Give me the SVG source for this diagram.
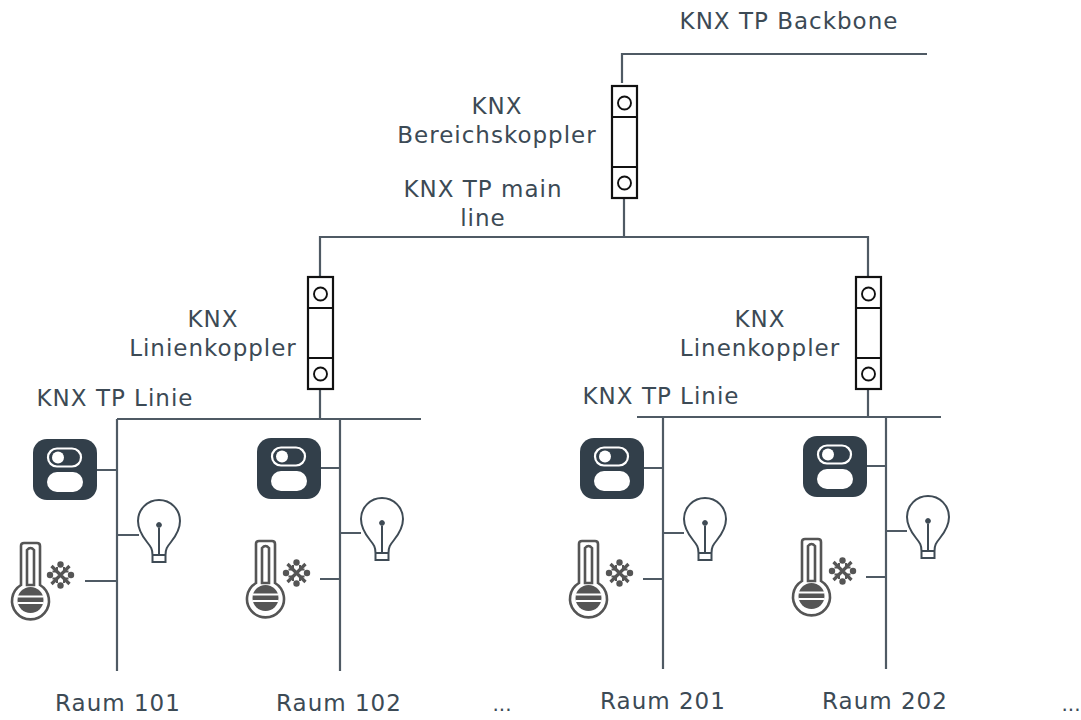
<svg xmlns="http://www.w3.org/2000/svg" width="1081" height="720" viewBox="0 0 1081 720">
<style>
text{font-family:"DejaVu Sans","Liberation Sans",sans-serif;font-size:23px;letter-spacing:1px;fill:#3c4a55;text-anchor:middle}
.dots{letter-spacing:0;font-size:20px}
.w{fill:none;stroke:#4f5a64;stroke-width:2.2}
.c{fill:#fff;stroke:#111;stroke-width:2.2}
.b{fill:none;stroke:#111;stroke-width:1.9}
.bulb{fill:none;stroke:#3f4b55;stroke-width:2}
.th{fill:none;stroke:#555;stroke-width:2.6}
</style>
<defs>
<g id="coupler"><rect class="c" x="0" y="0" width="25" height="112"/><path class="b" d="M0 31H25M0 81H25"/><circle class="b" cx="12.500" cy="17" r="6.500"/><circle class="b" cx="12.500" cy="97" r="6.500"/></g>
<g id="switch"><rect x="0" y="0" width="64" height="61" rx="14" fill="#323f4a"/><rect x="15" y="9.500" width="33" height="18" rx="9" fill="none" stroke="#fff" stroke-width="2.2"/><circle cx="25" cy="18.500" r="6" fill="#fff"/><rect x="14" y="33" width="36" height="20" rx="10" fill="#fff"/></g>
<g id="bulb"><path class="bulb" d="M-6.500 42V35C-6.500 29-8 27-12 22C-16 17-21 10-21 1A21 21 0 1 1 21 1C21 10 16 17 12 22C8 27 6.500 29 6.500 35V42H-6.500ZM-6.500 35H6.500"/><path class="bulb" d="M0 35V8"/><circle cx="0" cy="5" r="2.400" fill="#3f4b55" stroke="#3f4b55" stroke-width="1"/></g>
<g id="therm"><path class="th" d="M-9.500 42V3Q-9.500 0-6.500 0H6.500Q9.500 0 9.500 3V42A18.500 18.500 0 1 1-9.500 42Z"/><path class="th" d="M-3.500 7Q0 3 3.500 7V42H-3.500Z"/><circle cx="0" cy="57" r="13" fill="#555"/><path d="M-13 53.500H13M-13 60H13" stroke="#fff" stroke-width="2.200"/></g>
<g id="snow"><path d="M-9 -9L9 9M-9 9L9 -9" stroke="#555" stroke-width="3.200" fill="none"/><path d="M-8 -3.500L-3.500 -3.500L-3.500 -8M8 -3.500L3.500 -3.500L3.500 -8M-8 3.500L-3.500 3.500L-3.500 8M8 3.500L3.500 3.500L3.500 8" stroke="#555" stroke-width="2" fill="none"/><circle cx="0" cy="-10.500" r="3.200" fill="#555"/><circle cx="0" cy="10.500" r="3.200" fill="#555"/><circle cx="-10.500" cy="0" r="3.200" fill="#555"/><circle cx="10.500" cy="0" r="3.200" fill="#555"/></g>
</defs>
<g id="connectors">
<path class="w" d="M622 83V54H927M624 198V237M320 278V237H868V278M320 388V419M117 419H421M117 419V671M96 470H117M117 535H139M85 581H117M340 419V671M318 468H340M340 533H361M320 579H340"/>
<path class="w" d="M868 388V417M637 417H941M663 417V669M641 468H663M663 533H684M643 579H663M886 417V669M864 466H886M886 531H907M866 577H886"/>
</g>
<g id="bereichskoppler"><use href="#coupler" x="612" y="86"/></g>
<g id="linienkoppler1"><use href="#coupler" x="308" y="277"/></g>
<g id="linienkoppler2"><use href="#coupler" x="856" y="277"/></g>
<g id="s101"><use href="#switch" x="33" y="439"/></g>
<g id="s102"><use href="#switch" x="257" y="438"/></g>
<g id="s201"><use href="#switch" x="580" y="438"/></g>
<g id="s202"><use href="#switch" x="803" y="436"/></g>
<g id="l101"><use href="#bulb" x="159" y="520"/></g>
<g id="l102"><use href="#bulb" x="382" y="518"/></g>
<g id="l201"><use href="#bulb" x="705" y="518"/></g>
<g id="l202"><use href="#bulb" x="928" y="516"/></g>
<g id="t101"><use href="#therm" x="30.500" y="543"/><use href="#snow" x="60.500" y="575"/></g>
<g id="t102"><use href="#therm" x="265.500" y="541"/><use href="#snow" x="296.500" y="573"/></g>
<g id="t201"><use href="#therm" x="588.500" y="541"/><use href="#snow" x="619.500" y="573"/></g>
<g id="t202"><use href="#therm" x="811.500" y="539"/><use href="#snow" x="842.500" y="571"/></g>
<g id="labels">
<text x="789" y="29">KNX TP Backbone</text>
<text x="497" y="114">KNX</text><text x="497" y="143">Bereichskoppler</text>
<text x="483" y="197">KNX TP main</text><text x="483" y="226">line</text>
<text x="213" y="327">KNX</text><text x="213" y="356">Linienkoppler</text>
<text x="760" y="327">KNX</text><text x="760" y="356">Linenkoppler</text>
<text x="115" y="406">KNX TP Linie</text><text x="661" y="404">KNX TP Linie</text>
<text x="118" y="711">Raum 101</text><text x="339" y="711">Raum 102</text><text class="dots" x="502" y="711">...</text>
<text x="663" y="709">Raum 201</text><text x="885" y="709">Raum 202</text><text class="dots" x="1071" y="711">...</text>
</g>
</svg>
